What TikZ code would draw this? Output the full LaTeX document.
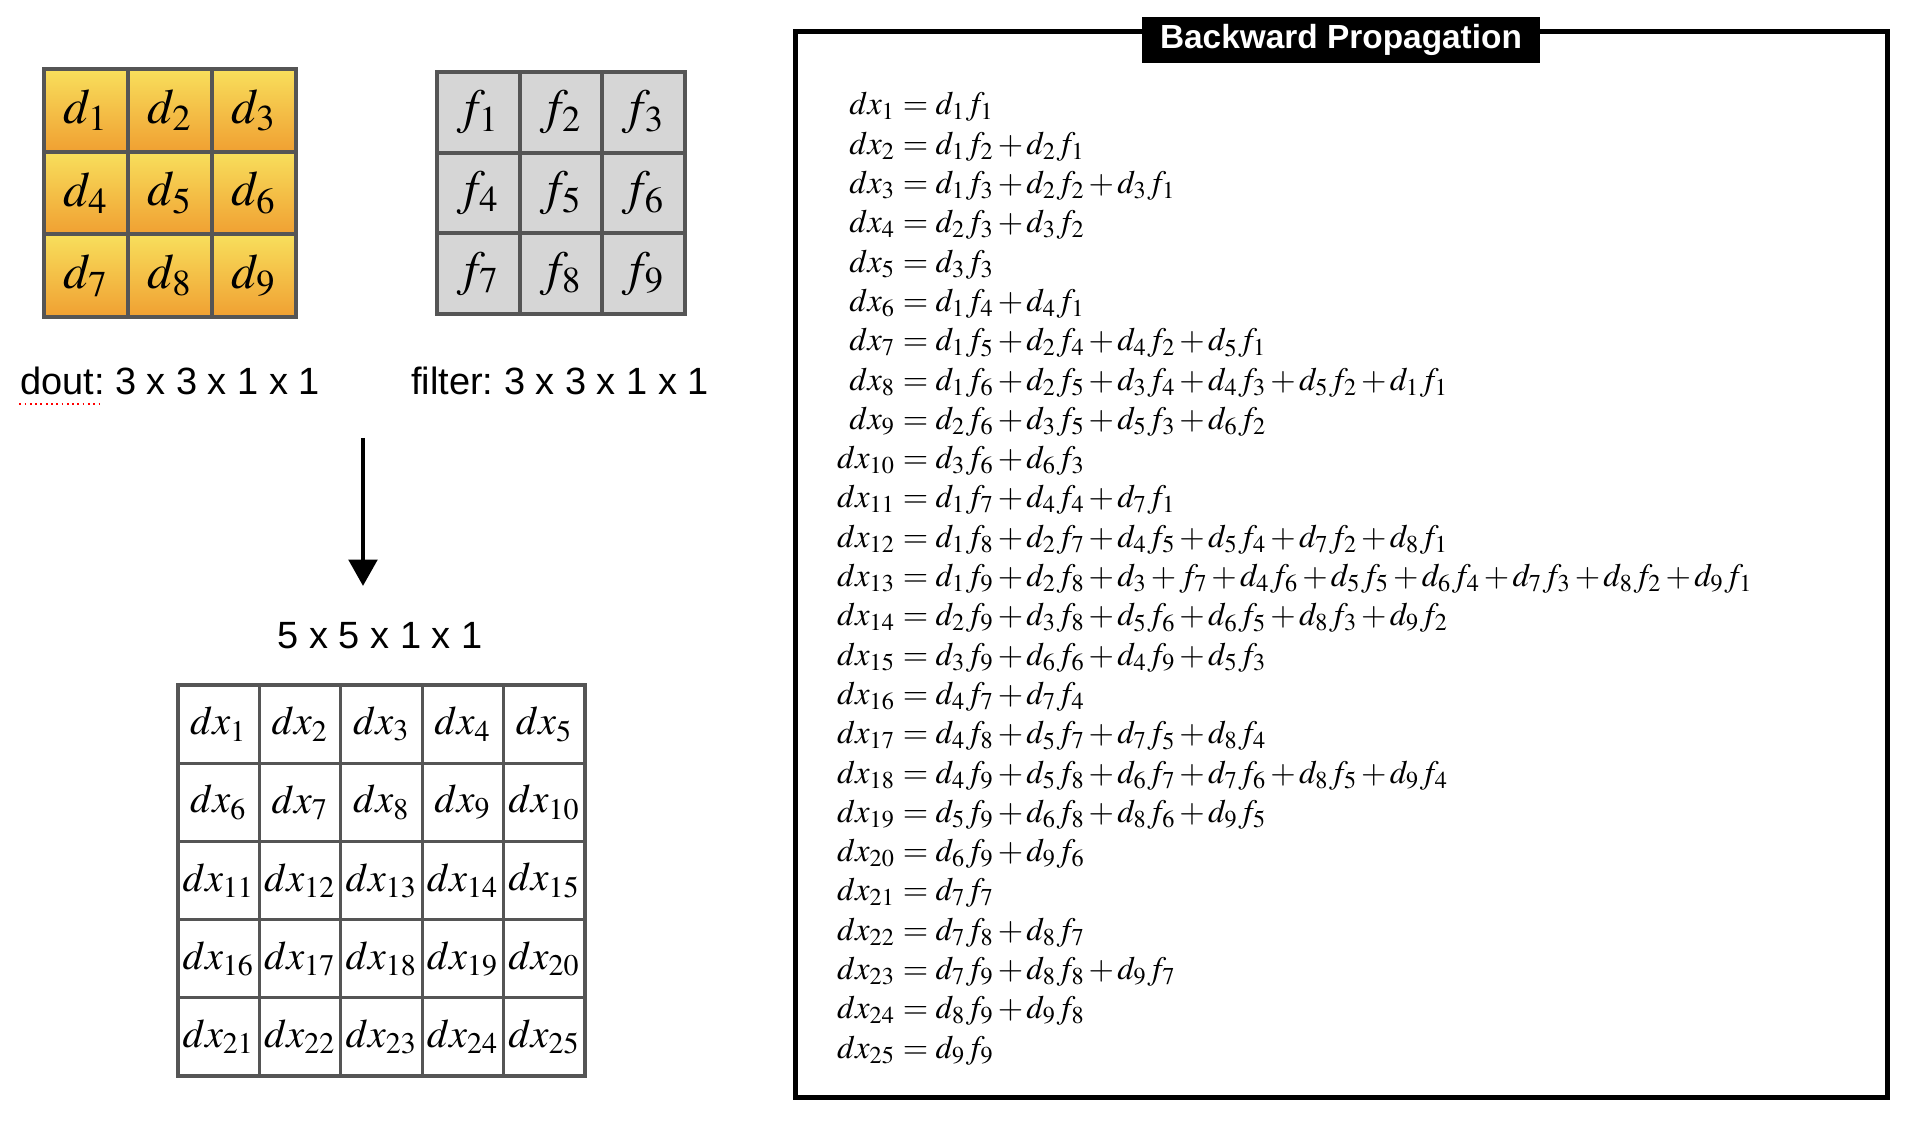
\documentclass[tikz,border=0pt]{standalone}
\usepackage{fontspec}
\usepackage{mathptmx}
\newfontfamily\labelfont{Liberation Sans}
\usetikzlibrary{arrows.meta}

\definecolor{gridgray}{HTML}{555555}
\definecolor{cellgray}{HTML}{D6D6D6}
\definecolor{doutyellow}{HTML}{F8DF5C}
\definecolor{doutorange}{HTML}{F0A032}

% tighter math spacing for the equation list
\newcommand\eqspacing{\medmuskip=1.8mu\relax\thickmuskip=4mu\relax}

\tikzset{
  doutcell/.style={draw=gridgray, line width=1.1pt, top color=doutyellow,
    bottom color=doutorange, minimum width=0.84cm, minimum height=0.826cm,
    inner sep=0pt, font=\fontsize{14}{16}\selectfont},
  filtercell/.style={draw=gridgray, line width=1.1pt, fill=cellgray,
    minimum width=0.827cm, minimum height=0.807cm, inner sep=0pt,
    font=\fontsize{14}{16}\selectfont},
  dxcell/.style={draw=gridgray, line width=0.9pt, fill=white,
    minimum width=0.814cm, minimum height=0.782cm, inner sep=0pt,
    font=\fontsize{11.5}{13}\selectfont},
  shapelabel/.style={font=\labelfont\frenchspacing\fontsize{10.8}{12}\selectfont, inner sep=0pt},
  panel/.style={draw=black, line width=1.3pt, minimum width=10.91cm,
    minimum height=10.65cm, inner sep=0pt},
  paneltitle/.style={fill=black, text=white, minimum width=3.98cm,
    minimum height=0.46cm, inner sep=0pt,
    font=\labelfont\bfseries\fontsize{9.5}{11}\selectfont},
  eqline/.style={anchor=base west, inner sep=0pt, font=\fontsize{9.3}{11}\selectfont},
  flowarrow/.style={line width=1.4pt, -{Triangle[length=7.5pt, width=8pt]}},
  spellmark/.style={red, densely dotted, line width=0.5pt}
}

\begin{document}
\begin{tikzpicture}[x=0.01cm, y=-0.01cm]

    % --- Page frame (pixel grid of the reference) ---
    \useasboundingbox (0,0) rectangle (1926,1122);

    % --- dout grid (3 x 3) ---
    \foreach \r in {0,1,2}
      \foreach \c in {0,1,2} {
        \pgfmathtruncatemacro{\k}{3*\r+\c+1}
        \node[doutcell] (d\k) at (86+84*\c, 110.3+82.6*\r) {$d_{\k}$};
      }

    % --- filter grid (3 x 3) ---
    \foreach \r in {0,1,2}
      \foreach \c in {0,1,2} {
        \pgfmathtruncatemacro{\k}{3*\r+\c+1}
        \node[filtercell] (f\k) at (478.3+82.7*\c, 112.3+80.7*\r) {$f_{\k}$};
      }

    % --- Shape labels ---
    \node[shapelabel] (doutlbl) at (170,381) {dout: 3 x 3 x 1 x 1};
    \node[shapelabel] (filterlbl) at (560,381) {filter: 3 x 3 x 1 x 1};
    \node[shapelabel] (outlbl) at (380,636) {5 x 5 x 1 x 1};

    % spell-check underline below "dout"
    \draw[spellmark] ([yshift=-2.6pt]doutlbl.base west) -- ++(81,0);

    % --- Arrow down to the result ---
    \coordinate (arrowtop) at (363,438);
    \coordinate (arrowtip) at (363,586);
    \draw[flowarrow] (arrowtop) -- (arrowtip);

    % --- dx grid (5 x 5) ---
    \foreach \r in {0,...,4}
      \foreach \c in {0,...,4} {
        \pgfmathtruncatemacro{\k}{5*\r+\c+1}
        \node[dxcell] (dx\k) at (218.7+81.4*\c, 724.1+78.2*\r) {$dx_{\k}$};
      }

    % --- Backward propagation panel ---
    \node[panel] (bp) at (1341.5,564.5) {};
    \node[paneltitle] (bptitle) at (1341,40) {Backward Propagation};

    % --- Equations (aligned on the equals sign) ---
    \foreach \i/\rhs in {
        1/{d_1f_1},
        2/{d_1f_2+d_2f_1},
        3/{d_1f_3+d_2f_2+d_3f_1},
        4/{d_2f_3+d_3f_2},
        5/{d_3f_3},
        6/{d_1f_4+d_4f_1},
        7/{d_1f_5+d_2f_4+d_4f_2+d_5f_1},
        8/{d_1f_6+d_2f_5+d_3f_4+d_4f_3+d_5f_2+d_1f_1},
        9/{d_2f_6+d_3f_5+d_5f_3+d_6f_2},
        10/{d_3f_6+d_6f_3},
        11/{d_1f_7+d_4f_4+d_7f_1},
        12/{d_1f_8+d_2f_7+d_4f_5+d_5f_4+d_7f_2+d_8f_1},
        13/{d_1f_9+d_2f_8+d_3+f_7+d_4f_6+d_5f_5+d_6f_4+d_7f_3+d_8f_2+d_9f_1},
        14/{d_2f_9+d_3f_8+d_5f_6+d_6f_5+d_8f_3+d_9f_2},
        15/{d_3f_9+d_6f_6+d_4f_9+d_5f_3},
        16/{d_4f_7+d_7f_4},
        17/{d_4f_8+d_5f_7+d_7f_5+d_8f_4},
        18/{d_4f_9+d_5f_8+d_6f_7+d_7f_6+d_8f_5+d_9f_4},
        19/{d_5f_9+d_6f_8+d_8f_6+d_9f_5},
        20/{d_6f_9+d_9f_6},
        21/{d_7f_7},
        22/{d_7f_8+d_8f_7},
        23/{d_7f_9+d_8f_8+d_9f_7},
        24/{d_8f_9+d_9f_8},
        25/{d_9f_9}}
      \node[eqline] (eq\i) at (895, 115+39.3*\i-39.3)
        {\eqspacing\llap{$dx_{\i}$}${}=\rhs$};

\end{tikzpicture}
\end{document}
